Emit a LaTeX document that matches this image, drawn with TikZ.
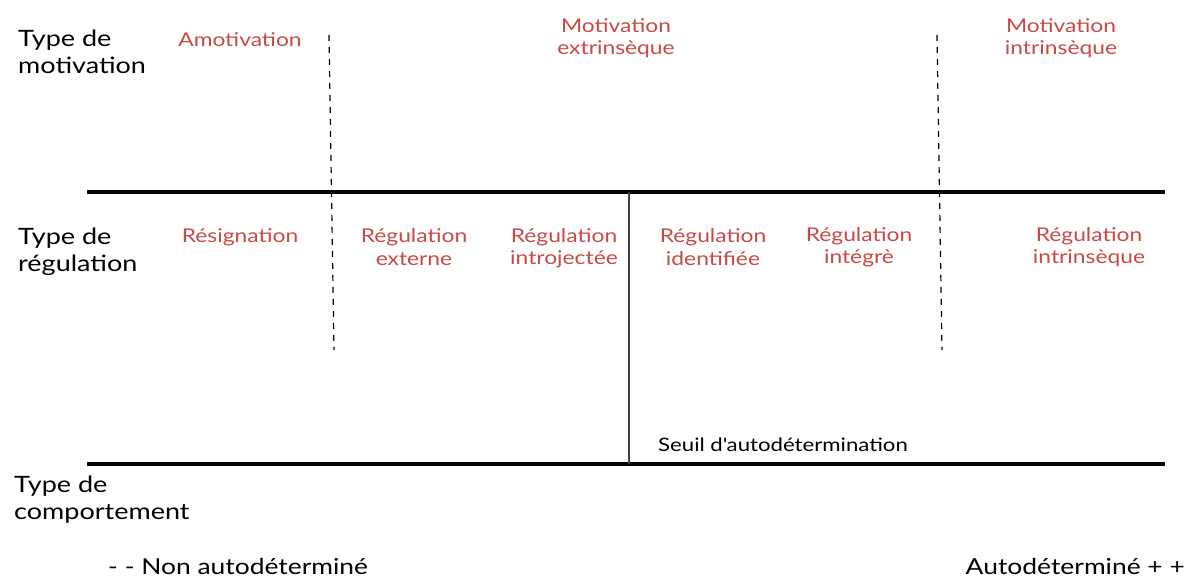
\documentclass[tikz,border=0pt]{standalone}
\usepackage{fontspec}
\setmainfont{Lato}[FakeStretch=1.2]
\usetikzlibrary{positioning}
\definecolor{motred}{RGB}{201,74,69}
\tikzset{
  lbl/.style={align=left, anchor=west, font=\fontsize{22.5}{27}\selectfont, inner sep=0pt},
  typ/.style={align=center, text=motred, font=\fontsize{19}{22.5}\selectfont, inner sep=0pt},
  axe/.style={line width=3.5pt, black},
  sep/.style={dashed, line width=1.2pt, dash pattern=on 6pt off 6pt},
  seuil/.style={line width=1.6pt, black!75}
}
\begin{document}
\begin{tikzpicture}[x=1pt,y=-1pt]
	\useasboundingbox (0,0) rectangle (1187,577);
	% axes
	\coordinate (a1w) at (87,192);
	\coordinate (a1e) at (1165,192);
	\coordinate (a2w) at (87,464);
	\coordinate (a2e) at (1165,464);
	\draw[axe] (a1w) -- (a1e);
	\draw[axe] (a2w) -- (a2e);
	%
	\coordinate (s1t) at (329,35);
	\coordinate (s1b) at (334,350);
	\coordinate (s2t) at (937,35);
	\coordinate (s2b) at (942,350);
	\draw[sep] (s1t) -- (s1b);
	\draw[sep] (s2t) -- (s2b);
	\coordinate (seuilt) at (629,192);
	\coordinate (seuilb) at (629,464);
	\draw[seuil] (seuilt) -- (seuilb);
	% lignes
	\node[lbl] (tmot) at (18,52) {Type de\\motivation};
	\node[lbl] (treg) at (18,252) {Type de\\régulation};
	\node[lbl] (tcomp) at (14,500) {Type de\\comportement};
	% motivations
	\node[typ] (amot) at (240,40) {Amotivation};
	\node[typ] (mext) at (616,38) {Motivation\\extrinsèque};
	\node[typ] (mint) at (1061,38) {Motivation\\intrinsèque};
	% regulations
	\node[typ] (resig) at (240,237) {Résignation};
	\node[typ] (rext) at (414,247) {Régulation\\externe};
	\node[typ] (rintro) at (564,248) {Régulation\\introjectée};
	\node[typ] (rident) at (713,247) {Régulation\\identifiée};
	\node[typ] (rinteg) at (859,247) {Régulation\\intégrè};
	\node[typ] (rintr) at (1089,247) {Régulation\\intrinsèque};
	%
	\node[font=\fontsize{18.5}{22}\selectfont, inner sep=0pt, anchor=base] (seuil) at (783,452) {Seuil d\textquotesingle autodétermination};
	\node[font=\fontsize{22}{26}\selectfont, inner sep=0pt, anchor=base west] (nonauto) at (108,574) {- - Non autodéterminé};
	\node[font=\fontsize{22}{26}\selectfont, inner sep=0pt, anchor=base east] (auto) at (1185,574) {Autodéterminé + +};
\end{tikzpicture}
\end{document}
